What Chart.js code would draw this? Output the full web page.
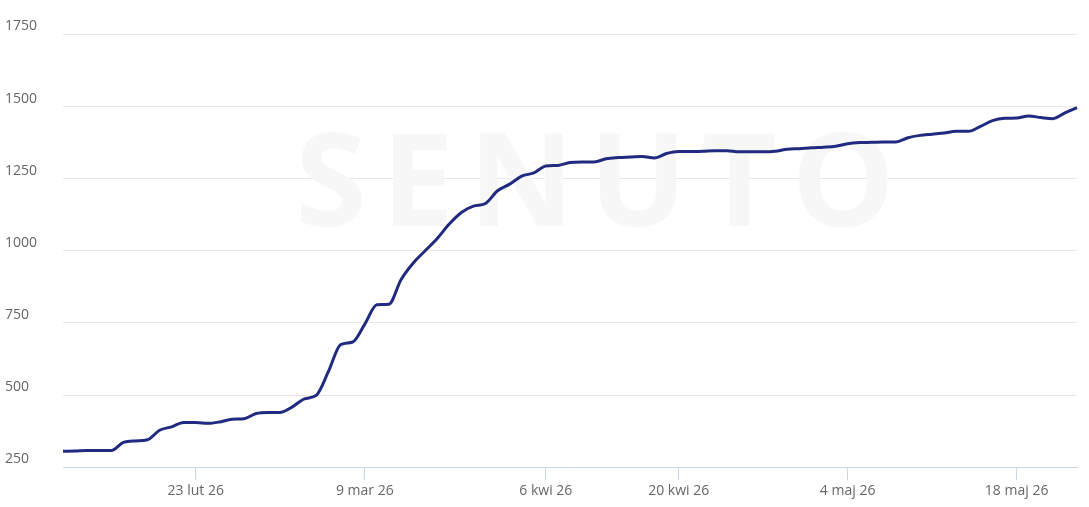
<!DOCTYPE html>
<html>
<head>
<meta charset="utf-8">
<script src="https://cdn.jsdelivr.net/npm/chart.js@4.4.0/dist/chart.umd.min.js"></script>
<style>
  html, body { margin: 0; padding: 0; background: #fff; }
  #wrap { width: 1089px; height: 507px; }
</style>
</head>
<body>
<div id="wrap"><canvas id="myChart" width="1089" height="507"></canvas></div>
<script>
// one label per data point (the source skips some days in March/April)
const dates = [
  '12 lut 26', '13 lut 26', '14 lut 26', '15 lut 26', '16 lut 26', '17 lut 26', '18 lut 26', '19 lut 26',
  '20 lut 26', '21 lut 26', '22 lut 26', '23 lut 26', '24 lut 26', '25 lut 26', '26 lut 26', '27 lut 26',
  '28 lut 26', '1 mar 26', '2 mar 26', '3 mar 26', '4 mar 26', '5 mar 26', '6 mar 26', '7 mar 26',
  '8 mar 26', '9 mar 26', '11 mar 26', '13 mar 26', '15 mar 26', '17 mar 26', '19 mar 26', '21 mar 26',
  '23 mar 26', '25 mar 26', '27 mar 26', '29 mar 26', '31 mar 26', '2 kwi 26', '4 kwi 26', '5 kwi 26',
  '6 kwi 26', '7 kwi 26', '8 kwi 26', '9 kwi 26', '10 kwi 26', '11 kwi 26', '13 kwi 26', '14 kwi 26',
  '15 kwi 26', '16 kwi 26', '18 kwi 26', '20 kwi 26', '21 kwi 26', '22 kwi 26', '23 kwi 26', '24 kwi 26',
  '25 kwi 26', '26 kwi 26', '27 kwi 26', '28 kwi 26', '29 kwi 26', '30 kwi 26', '1 maj 26', '2 maj 26',
  '3 maj 26', '4 maj 26', '5 maj 26', '6 maj 26', '7 maj 26', '8 maj 26', '9 maj 26', '10 maj 26',
  '11 maj 26', '12 maj 26', '13 maj 26', '14 maj 26', '15 maj 26', '16 maj 26', '17 maj 26', '18 maj 26',
  '19 maj 26', '20 maj 26', '21 maj 26', '22 maj 26', '23 maj 26'
];

const keywords = [
  305, 306, 308, 308, 308, 336, 341, 345, 378, 390,
  405, 405, 402, 407, 416, 418, 436, 440, 440, 459,
  487, 500, 583, 675, 684, 746, 813, 815, 900, 957,
  1000, 1043, 1093, 1133, 1155, 1164, 1208, 1231, 1259, 1270,
  1294, 1296, 1306, 1308, 1308, 1319, 1323, 1325, 1327, 1322,
  1337, 1344, 1344, 1345, 1347, 1347, 1343, 1343, 1343, 1345,
  1352, 1354, 1357, 1359, 1362, 1371, 1375, 1376, 1377, 1377,
  1392, 1400, 1404, 1408, 1414, 1414, 1431, 1451, 1459, 1460,
  1467, 1462, 1458, 1478, 1496
];

const shownDates = ['23 lut 26', '9 mar 26', '6 kwi 26', '20 kwi 26', '4 maj 26', '18 maj 26'];
const yTicks = [250, 500, 750, 1000, 1250, 1500, 1750];

const FONT = '"Open Sans", sans-serif';

// faint logo text behind the line
const watermark = {
  id: 'watermark',
  beforeDatasetsDraw(chart) {
    const c = chart.ctx;
    c.save();
    c.font = '700 130px ' + FONT;
    c.fillStyle = '#f7f7f7';
    c.textBaseline = 'middle';
    c.textAlign = 'left';
    const txt = 'SENUTO';
    c.letterSpacing = '0px';
    const w0 = c.measureText(txt).width;
    const sp = (600 - w0) / (txt.length - 1);
    c.letterSpacing = sp + 'px';
    c.fillText(txt, 295, 189);
    c.restore();
  }
};

const ctx = document.getElementById('myChart').getContext('2d');
const data = {
  labels: dates,
  datasets: [
    {
      type: 'line',
      label: 'Słowa kluczowe',
      data: keywords,
      borderColor: '#1f2a80',
      backgroundColor: '#1f2a80',
      borderWidth: 3,
      pointRadius: 0,
      cubicInterpolationMode: 'monotone',
      fill: false,
    },
  ],
};

const config = {
  type: 'line',
  data: data,
  options: {
    responsive: false,
    animation: false,
    layout: {
      padding: { left: 5, right: 12, top: 23, bottom: 6 },
    },
    plugins: {
      legend: { display: false },
      tooltip: { enabled: false },
    },
    scales: {
      x: {
        offset: false,
        border: { display: true, color: '#ccd6eb', width: 1 },
        grid: {
          drawOnChartArea: false,
          drawTicks: true,
          tickLength: 13,
          color: '#ccd6eb',
        },
        afterFit: axis => {
          axis.paddingLeft = 0;
          axis.paddingRight = 0;
        },
        ticks: {
          autoSkip: false,
          maxRotation: 0,
          minRotation: 0,
          padding: 2,
          color: '#666666',
          font: { family: FONT, size: 14 },
          callback: function (val) {
            const lab = this.getLabelForValue(val);
            return shownDates.includes(lab) ? lab : null;
          },
        },
      },
      y: {
        min: yTicks[0],
        max: yTicks[yTicks.length - 1],
        border: { display: false },
        grid: { color: '#e6e6e6', drawTicks: false },
        afterBuildTicks: axis => {
          axis.ticks = yTicks.map(v => ({ value: v }));
        },
        afterFit: axis => {
          axis.width = 58;
        },
        ticks: {
          crossAlign: 'far',
          labelOffset: -8,
          padding: 26,
          color: '#666666',
          font: { family: FONT, size: 14 },
          callback: v => String(v),
        },
      },
    },
  },
  plugins: [watermark],
};

const keywordsChart = new Chart(ctx, config);
</script>
</body>
</html>
